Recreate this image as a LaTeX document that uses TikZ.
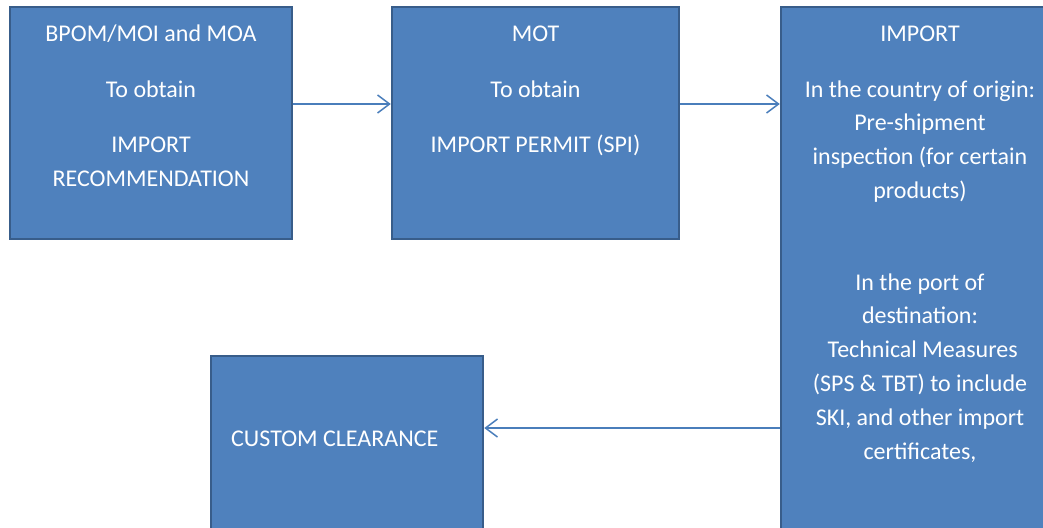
\documentclass[tikz,border=0pt]{standalone}
\usepackage{fontspec}
\setmainfont{Carlito}
\usetikzlibrary{arrows.meta}
\definecolor{boxfill}{HTML}{4F81BD}
\definecolor{boxline}{HTML}{385D8A}
\definecolor{arrowc}{HTML}{4A7EBB}
\begin{document}
\begin{tikzpicture}[x=1pt,y=-1pt,
  box/.style={draw=boxline,fill=boxfill,line width=2.5pt,rectangle,inner sep=0pt},
  boxtext/.style={text=white,align=center,inner sep=0pt,font=\fontsize{24}{33.8}\selectfont,anchor=north},
  flow/.style={draw=arrowc,line width=1.5pt,-{Straight Barb[length=12pt,width=18pt,line width=1.5pt]}}]
\clip (0,0) rectangle (1043,527);
\fill[white] (0,0) rectangle (1043,527);
\node[box,minimum width=282pt,minimum height=232pt] (b1) at (151,123) {};
\node[box,minimum width=287pt,minimum height=232pt] (b2) at (535.5,123) {};
\node[box,minimum width=284pt,minimum height=553pt] (b3) at (923,283.5) {};
\node[box,minimum width=272pt,minimum height=204pt] (b4) at (347,458) {};
\node[boxtext] (t1) at (151,18) {\strut BPOM/MOI and MOA\\[21.5pt] To obtain\\[21.5pt] IMPORT\\ RECOMMENDATION};
\node[boxtext] (t2) at (535.5,18) {\strut MOT\\[21.5pt] To obtain\\[21.5pt] IMPORT PERMIT (SPI)};
\node[boxtext] (t3) at (920,18) {\strut IMPORT\\[21.5pt] In the country of origin:\\ Pre-shipment\\ inspection (for certain\\ products)\\[57.8pt] In the port of\\ destination:\\ \mbox{}\ Technical Measures\\ (SPS \& TBT) to include\\ SKI, and other import\\ certificates,};
\node[boxtext,anchor=base west] (t4) at (231,446.7) {CUSTOM CLEARANCE};
\draw[flow] ([yshift=19pt]b1.east) -- ([yshift=19pt]b2.west);
\coordinate (a2) at ([yshift=19pt]b2.east);
\draw[flow] (a2) -- (b3.west |- a2);
\coordinate (a3) at ([yshift=30pt]b4.east);
\draw[flow] (b3.west |- a3) -- (a3);
\end{tikzpicture}
\end{document}
